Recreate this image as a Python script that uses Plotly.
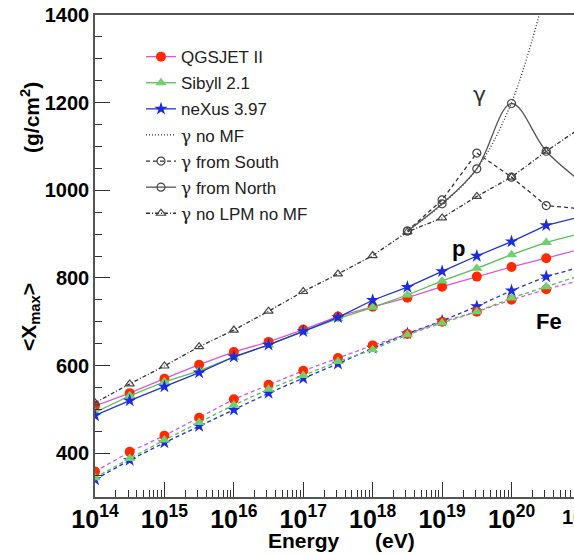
import plotly.graph_objects as go

# ---- data ----
log_energy = [14, 14.5, 15, 15.5, 16, 16.5, 17, 17.5, 18, 18.5, 19, 19.5, 20, 20.5, 21]

p_qgsjet = [508, 537, 570, 602, 631, 654, 682, 712, 734, 755, 780, 803, 825, 845, 866]
p_sibyll = [493, 531, 563, 588, 619, 647, 678, 707, 733, 761, 793, 822, 853, 881, 902]
p_nexus = [486, 520, 552, 584, 620, 647, 678, 710, 749, 779, 815, 850, 883, 920, 940]

fe_qgsjet = [358, 403, 440, 481, 523, 556, 588, 617, 646, 672, 700, 723, 750, 774, 795]
fe_sibyll = [344, 388, 430, 470, 510, 546, 577, 609, 636, 670, 697, 723, 754, 780, 806]
fe_nexus = [340, 384, 424, 462, 499, 537, 571, 604, 640, 673, 702, 735, 771, 803, 825]

gamma_nolpm = [515, 558, 599, 643, 681, 724, 769, 809, 851, 905, 937, 986, 1030, 1089, 1143]

log_energy_g = [18.5, 19, 19.5, 20, 20.5, 21]
gamma_north = [907, 969, 1049, 1198, 1089, 1020]
gamma_south = [907, 978, 1085, 1030, 965, 958]
log_energy_nomf = [18.5, 19, 19.5, 20, 20.5]
gamma_nomf = [907, 968, 1049, 1200, 1460]

E = [10.0 ** v for v in log_energy]
Eg = [10.0 ** v for v in log_energy_g]
Enomf = [10.0 ** v for v in log_energy_nomf]

RED = "#ff2a00"
MAG = "#dd55dd"
GRN_L = "#55c055"
GRN_M = "#70d070"
BLU = "#2233cc"
BLU_M = "#1a2be0"
GRAY = "#444444"

fig = go.Figure()

def add(x, y, name, line_color, dash, marker, show, group, mode="lines+markers", shape="linear"):
    fig.add_trace(go.Scatter(
        x=x, y=y, name=name, mode=mode, showlegend=show, legendgroup=group,
        line=dict(color=line_color, width=1.3, dash=dash, shape=shape),
        marker=marker))

mk_q = dict(symbol="circle", size=10, color=RED, line=dict(width=0))
mk_s = dict(symbol="triangle-up", size=10, color=GRN_M, line=dict(width=0))
mk_n = dict(symbol="star", size=10, color=BLU_M, line=dict(width=0))

# iron (dashed)
add(E, fe_nexus, "neXus 3.97 Fe", BLU, "4px,3px", mk_n, False, "fn")
add(E, fe_qgsjet, "QGSJET II Fe", MAG, "4px,3px", mk_q, False, "fq")
add(E, fe_sibyll, "Sibyll 2.1 Fe", GRN_L, "4px,3px", mk_s, False, "fs")
# proton (solid)
add(E, p_qgsjet, "QGSJET II", MAG, "solid", mk_q, True, "a")
add(E, p_sibyll, "Sibyll 2.1", GRN_L, "solid", mk_s, True, "b")
add(E, p_nexus, "neXus 3.97", BLU, "solid", mk_n, True, "c")

g = '<span style="font-family:DejaVu Serif">γ</span>'
open_c = dict(symbol="circle-open", size=8, color=GRAY, line=dict(width=1.2, color=GRAY))
open_t = dict(symbol="triangle-up-open", size=8, color=GRAY, line=dict(width=1.2, color=GRAY))

add(Enomf, gamma_nomf, g + " no MF", "#333333", "1px,2px", dict(size=1), True, "d", mode="lines", shape="spline")
add(Eg, gamma_south, g + " from South", "#333333", "4px,3px", open_c, True, "e")
add(Eg, gamma_north, g + " from North", "#555555", "solid", open_c, True, "f", shape="spline")
add(E, gamma_nolpm, g + " no LPM no MF", "#333333", "4px,2px,1px,2px", open_t, True, "g")

TICKFONT = dict(family="Liberation Sans", size=20, color="black", weight="bold")

fig.update_layout(
    width=574, height=554,
    margin=dict(l=95, r=0, t=15, b=57),
    paper_bgcolor="white", plot_bgcolor="white",
    showlegend=True,
    legend=dict(x=0.096, y=0.950, xanchor="left", yanchor="top",
                bgcolor="rgba(0,0,0,0)", borderwidth=0,
                font=dict(family="Liberation Sans", size=17, color="#222222"),
                tracegroupgap=1, itemwidth=30),
    xaxis=dict(type="log", range=[14, 20.9], dtick=1, tick0=0,
               exponentformat="power", showexponent="all",
               ticks="inside", ticklen=15, tickwidth=1.2, tickcolor="#333",
               minor=dict(ticks="inside", ticklen=7, dtick="D1", tickwidth=1, tickcolor="#333", showgrid=False),
               showline=True, linecolor="#555", linewidth=1.5, mirror=True,
               showgrid=False, zeroline=False, tickfont=TICKFONT),
    yaxis=dict(range=[300, 1400], dtick=200, tick0=0,
               ticks="inside", ticklen=15, tickwidth=1.2, tickcolor="#333",
               minor=dict(ticks="inside", ticklen=7, dtick=50, tickwidth=1, tickcolor="#333", showgrid=False),
               showline=True, linecolor="#555", linewidth=1.5, mirror=False,
               showgrid=False, zeroline=False, tickfont=TICKFONT),
)

LBL = dict(family="Liberation Sans", size=21, color="black", weight="bold")
W, H, L, R, T, B = 574, 554, 95, 0, 15, 57
pw, ph = W - L - R, H - T - B

def px(xp, yp):
    return (xp - L) / pw, 1 - (yp - T) / ph

ann = []
def pix_ann(xp, yp, text, **kw):
    x, y = px(xp, yp)
    d = dict(x=x, y=y, xref="paper", yref="paper", text=text, showarrow=False,
             xanchor="center", yanchor="middle")
    d.update(kw)
    ann.append(d)

pix_ann(95 + 7 * 69.43, 497, "10<sup>21</sup>", yanchor="top", yshift=-4, font=TICKFONT)
pix_ann(304, 540, "Energy", font=LBL)
pix_ann(395, 540, "(eV)", font=LBL)
pix_ann(30, 317, "&lt;X<sub>max</sub>&gt;", textangle=-90, font=LBL)
pix_ann(30, 118, "(g/cm<sup>2</sup>)", textangle=-90, font=LBL)
ann.append(dict(x=19.23, y=868, xref="x", yref="y", text="p", showarrow=False,
                xanchor="center", yanchor="middle",
                font=dict(family="Liberation Sans", size=22, color="black", weight="bold")))
ann.append(dict(x=20.54, y=700, xref="x", yref="y", text="Fe", showarrow=False,
                xanchor="center", yanchor="middle",
                font=dict(family="Liberation Sans", size=22, color="black", weight="bold")))
ann.append(dict(x=19.54, y=1218, xref="x", yref="y", text="γ", showarrow=False,
                xanchor="center", yanchor="middle",
                font=dict(family="DejaVu Sans", size=22, color="#333333")))
fig.update_layout(annotations=ann)

fig.write_html("out.html", config={"displayModeBar": False},
               post_script="document.body.style.margin='0';")
